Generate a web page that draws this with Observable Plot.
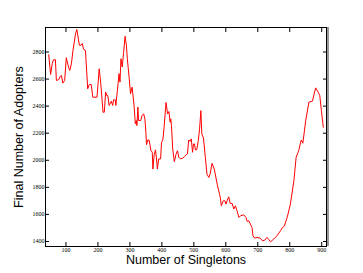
<!DOCTYPE html>
<html>
<head>
<meta charset="utf-8">
<script src="https://cdn.jsdelivr.net/npm/d3@7"></script>
<script src="https://cdn.jsdelivr.net/npm/@observablehq/plot@0.6"></script>
<style>
html,body{margin:0;padding:0;background:#fff;}
</style>
</head>
<body>
<div id="chart"></div>
<script>
const singletons = [46,52,57,61,67,70,77,82,86,90,96,101,108,112,117,122,130,134,142,147,151,155,161,168,173,179,184,197,204,209,216,220,224,228,231,235,242,246,249,254,256,261,266,269,272,276,280,285,289,292,298,302,307,313,317,320,322,325,327,334,338,343,347,350,352,356,360,366,370,372,376,380,383,386,390,396,399,403,407,413,418,422,426,428,430,434,439,444,449,453,458,466,471,476,480,484,488,492,496,499,502,505,509,514,518,522,525,530,536,541,547,551,557,564,570,574,580,583,586,592,597,601,604,609,614,620,625,630,635,641,646,656,663,667,672,677,682,685,690,698,707,715,722,729,734,740,750,760,771,776,783,792,802,813,820,825,828,836,841,850,860,871,881,889,894,899,905];
const adopters = [2780,2634,2713,2743,2743,2590,2595,2620,2627,2570,2590,2758,2689,2664,2713,2812,2936,2966,2850,2850,2862,2820,2812,2528,2560,2560,2466,2466,2676,2565,2355,2355,2505,2478,2478,2405,2437,2405,2447,2447,2405,2517,2640,2578,2750,2689,2788,2916,2850,2750,2602,2491,2540,2405,2270,2294,2256,2393,2294,2294,2330,2343,2306,2207,2115,2150,2150,2071,2059,1935,2042,2077,2017,1935,2010,2010,2133,2150,2244,2427,2343,2360,2281,2306,2256,2084,1990,2042,2071,2022,2010,2017,2027,2042,2047,2150,2140,2158,2059,2121,2121,2077,2077,2145,2232,2367,2195,2165,2022,1898,1873,1898,1978,1935,1861,1812,1755,1720,1664,1701,1701,1676,1701,1730,1681,1681,1640,1664,1627,1578,1590,1597,1578,1548,1553,1528,1504,1442,1425,1430,1425,1405,1410,1430,1415,1398,1418,1442,1479,1499,1514,1578,1676,1849,2022,2052,2071,2150,2126,2294,2430,2437,2535,2503,2478,2367,2244];
const xTicks = [100,200,300,400,500,600,700,800,900];
const yTicks = [1400,1600,1800,2000,2200,2400,2600,2800];
const xLabel = "Number of Singletons";
const yLabel = "Final Number of Adopters";

const data = singletons.map((x, i) => ({x, y: adopters[i]}));
const tickFont = {fontSize: 6, fontFamily: "Liberation Serif", tickFormat: d => String(d)};

const chart = Plot.plot({
  width: 363,
  height: 273,
  marginLeft: 45,
  marginRight: 37,
  marginTop: 27,
  marginBottom: 27,
  x: {domain: [36, 915]},
  y: {domain: [1363, 2981]},
  style: {background: "#fff", color: "#000"},
  marks: [
    Plot.ruleX([915], {dx: 1.5, stroke: "#999", strokeWidth: 2}),
    Plot.frame({stroke: "#000", strokeWidth: 1}),
    Plot.axisX(xTicks, {anchor: "bottom", tickSize: -4, tickPadding: 5, label: null, ...tickFont}),
    Plot.axisX(xTicks, {anchor: "top", tickSize: -4, tickFormat: () => "", label: null}),
    Plot.axisY(yTicks, {anchor: "left", tickSize: -4, tickPadding: 5, label: null, ...tickFont}),
    Plot.axisY(yTicks, {anchor: "right", tickSize: -4, tickFormat: () => "", label: null}),
    Plot.line(data, {x: "x", y: "y", stroke: "#ff0000", strokeWidth: 1}),
    Plot.text([xLabel], {frameAnchor: "bottom", dy: 17, fontSize: 12.5, fontFamily: "Liberation Sans", fill: "#000"}),
    Plot.text([yLabel], {frameAnchor: "left", dx: -27, rotate: -90, textAnchor: "middle", fontSize: 12.5, fontFamily: "Liberation Sans", fill: "#000"})
  ]
});
document.getElementById("chart").appendChild(chart);
</script>
</body>
</html>
